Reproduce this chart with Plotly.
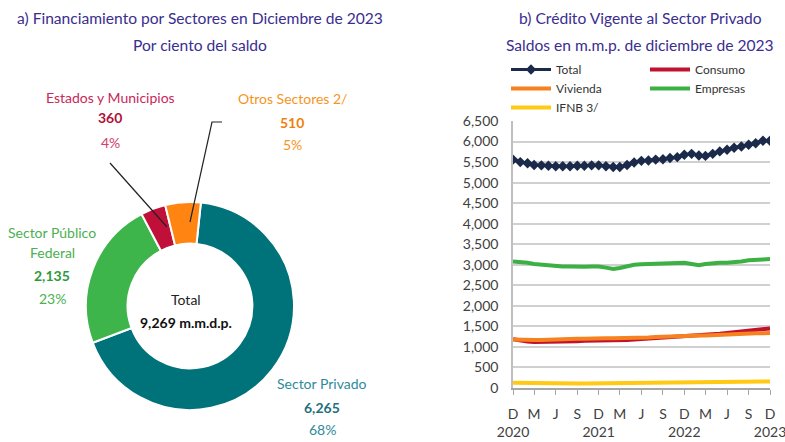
import plotly.graph_objects as go
import pandas as pd

W, H = 785, 442

# ---- Donut data ----
sectors = ["Sector Privado", "Sector Público Federal", "Estados y Municipios", "Otros Sectores 2/"]
sector_values = [6265, 2135, 360, 510]
sector_colors = ["#00727A", "#3DB54A", "#C0103A", "#FF8411"]

# ---- Line chart data (monthly, Dec 2020 - Dec 2023) ----
months = pd.date_range("2020-12-01", "2023-12-01", freq="MS")
total = [5560, 5500, 5470, 5430, 5420, 5410, 5400, 5400, 5400, 5410, 5410, 5420, 5420,
         5400, 5380, 5380, 5430, 5490, 5530, 5540, 5560, 5570, 5600, 5620, 5680,
         5700, 5660, 5650, 5700, 5760, 5800, 5850, 5880, 5920, 5960, 6020, 6020]
consumo = [1190, 1150, 1130, 1120, 1120, 1120, 1130, 1130, 1140, 1140, 1150, 1150, 1160,
           1160, 1150, 1160, 1170, 1180, 1190, 1200, 1210, 1220, 1240, 1250, 1270,
           1270, 1270, 1280, 1300, 1320, 1340, 1360, 1380, 1400, 1410, 1440, 1450]
vivienda = [1180, 1170, 1170, 1170, 1170, 1180, 1180, 1190, 1190, 1200, 1200, 1210, 1210,
            1210, 1210, 1210, 1220, 1220, 1230, 1230, 1240, 1250, 1260, 1270, 1270,
            1280, 1280, 1280, 1290, 1300, 1300, 1310, 1310, 1320, 1330, 1330, 1340]
empresas = [3080, 3070, 3050, 3020, 3000, 2980, 2970, 2960, 2960, 2950, 2950, 2960, 2960,
            2930, 2900, 2920, 2970, 3000, 3010, 3020, 3010, 3030, 3040, 3040, 3050,
            3020, 2990, 3020, 3040, 3050, 3050, 3060, 3080, 3110, 3130, 3130, 3140]
ifnb = [130, 125, 120, 118, 115, 112, 110, 110, 108, 108, 108, 110, 110,
        108, 107, 108, 110, 112, 115, 118, 120, 122, 125, 128, 130,
        130, 130, 132, 135, 138, 140, 142, 145, 148, 150, 155, 160]

tick_dates = pd.date_range("2020-12-01", "2023-12-01", freq="3MS")
tick_letters = ["D", "M", "J", "S", "D", "M", "J", "S", "D", "M", "J", "S", "D"]
year_labels = {0: "2020", 4: "2021", 8: "2022", 12: "2023"}
tick_text = [l + ("<br>" + year_labels[i] if i in year_labels else "<br> ")
             for i, l in enumerate(tick_letters)]
y_ticks = list(range(0, 7000, 500))

FONT = "Lato"
TITLE_C = "#3A2E8F"


def px(x):
    return x / W


def py(y):
    return 1 - y / H


fig = go.Figure()

cx, cy, r = 190, 306, 104
fig.add_trace(go.Pie(
    labels=sectors, values=sector_values, hole=0.6, sort=False,
    direction="clockwise", rotation=6,
    marker=dict(colors=sector_colors, line=dict(color="white", width=2)),
    textinfo="none", hoverinfo="label+value+percent", showlegend=False,
    domain=dict(x=[px(cx - r), px(cx + r)], y=[py(cy + r), py(cy - r)]),
))

series = [
    ("Total", total, "#1B2A4A", "legend"),
    ("Consumo", consumo, "#C0122F", "legend2"),
    ("Vivienda", vivienda, "#F7801F", "legend"),
    ("Empresas", empresas, "#3BB143", "legend2"),
    ("IFNB 3/", ifnb, "#FFC914", "legend"),
]
for name, vals, col, lg in series:
    if name == "Total":
        fig.add_trace(go.Scatter(
            x=months, y=vals, name=name, mode="lines+markers",
            line=dict(color=col, width=3),
            marker=dict(symbol="diamond", size=8, color=col),
            legend=lg))
    else:
        fig.add_trace(go.Scatter(
            x=months, y=vals, name=name, mode="lines",
            line=dict(color=col, width=4), legend=lg))

ann = []


def text(x, y, t, color, size=14, bold=False):
    ann.append(dict(x=px(x), y=py(y), xref="paper", yref="paper", showarrow=False,
                    text=("<b>%s</b>" % t) if bold else t,
                    font=dict(family=FONT, size=size, color=color),
                    xanchor="center", yanchor="middle"))


text(200, 18, "a) Financiamiento por Sectores en Diciembre de 2023", TITLE_C, 15.6)
text(200, 45, "Por ciento del saldo", TITLE_C, 15.6)
text(640, 18, "b) Crédito Vigente al Sector Privado", TITLE_C, 15.6)
text(640, 45, "Saldos en m.m.p. de diciembre de 2023", TITLE_C, 15.6)

text(110, 97, "Estados y Municipios", "#C8285A", 14)
text(110, 118, "360", "#B0103A", 14, True)
text(110, 142, "4%", "#D04070", 14)
text(292, 99, "Otros Sectores 2/", "#F7941D", 14)
text(292, 122, "510", "#F07F10", 14, True)
text(292, 145, "5%", "#F7941D", 14)
text(52, 232, "Sector Público", "#4CAF50", 14)
text(52, 253, "Federal", "#4CAF50", 14)
text(52, 275, "2,135", "#2E9B3A", 14, True)
text(52, 298, "23%", "#4CAF50", 14)
text(322, 383, "Sector Privado", "#2E8B9A", 14)
text(322, 407, "6,265", "#1F6F80", 14, True)
text(322, 429, "68%", "#2E8B9A", 14)
text(186, 299, "Total", "#222222", 14)
text(186, 322, "9,269 m.m.d.p.", "#111111", 14, True)

shapes = [
    dict(type="line", xref="paper", yref="paper", x0=px(110), y0=py(163), x1=px(167), y1=py(227),
         line=dict(color="#222222", width=1.2)),
    dict(type="path", xref="paper", yref="paper",
         path="M %f,%f L %f,%f L %f,%f" % (px(190), py(222), px(212), py(122), px(222), py(122)),
         line=dict(color="#222222", width=1.2)),
]

fig.update_layout(
    width=W, height=H, margin=dict(l=0, r=0, t=0, b=0, autoexpand=False),
    paper_bgcolor="white", plot_bgcolor="white",
    font=dict(family=FONT, size=14, color="#404040"),
    annotations=ann, shapes=shapes,
    xaxis=dict(domain=[px(513), px(770)], type="date", automargin=False,
               range=[months[0], months[-1]],
               tickvals=tick_dates, ticktext=tick_text, tickangle=0,
               ticklabeloverflow="allow", ticklabelstandoff=7,
               tickfont=dict(size=14, color="#404040"),
               showgrid=False, showline=True, linecolor="#A6A6A6", linewidth=1.5,
               ticks="outside", ticklen=5, tickcolor="#A6A6A6", zeroline=False),
    yaxis=dict(domain=[py(388), py(121)], range=[0, 6500], automargin=False,
               tickvals=y_ticks, tickformat=",", tickfont=dict(size=14, color="#404040"),
               ticklabelstandoff=10,
               showgrid=True, gridcolor="#D0D0D0", gridwidth=1.5,
               showline=True, linecolor="#BFBFBF", linewidth=1.5, zeroline=False),
    legend=dict(x=px(506), y=py(55), xanchor="left", yanchor="top", itemwidth=40,
                bgcolor="rgba(0,0,0,0)", font=dict(size=12, color="#333333"),
                tracegroupgap=0),
    legend2=dict(x=px(645), y=py(55), xanchor="left", yanchor="top", itemwidth=40,
                 bgcolor="rgba(0,0,0,0)", font=dict(size=12, color="#333333"),
                 tracegroupgap=0),
)

fig.write_html("out.html", config={"displayModeBar": False},
               post_script="document.body.style.margin='0';"
               "document.body.style.padding='0';")
